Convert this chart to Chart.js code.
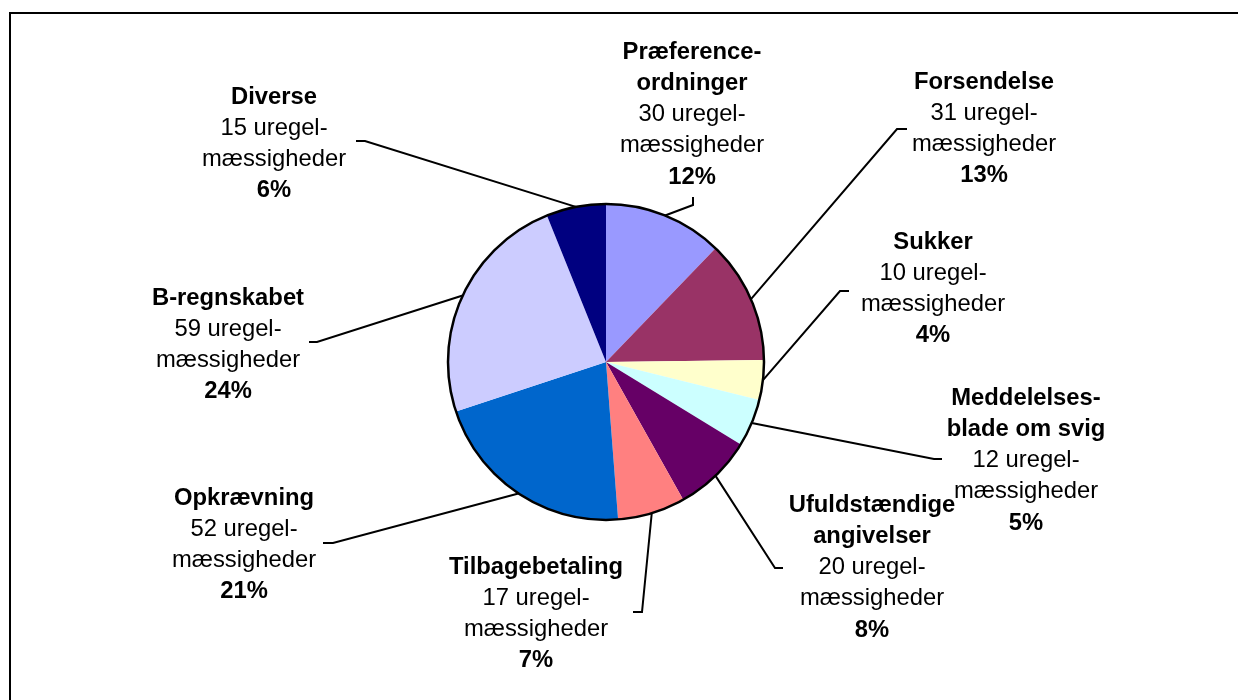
<!DOCTYPE html>
<html>
<head>
<meta charset="utf-8">
<script src="https://cdn.jsdelivr.net/npm/chart.js@4/dist/chart.umd.min.js"></script>
<style>
  html, body { margin: 0; padding: 0; background: #fff; }
  #wrap { position: relative; width: 1238px; height: 700px; }
</style>
</head>
<body>
<div id="wrap"><canvas id="pie"></canvas></div>
<script>
// data
const categories = [
  ["Præference-", "ordninger"],
  ["Forsendelse"],
  ["Sukker"],
  ["Meddelelses-", "blade om svig"],
  ["Ufuldstændige", "angivelser"],
  ["Tilbagebetaling"],
  ["Opkrævning"],
  ["B-regnskabet"],
  ["Diverse"]
];
const counts = [30, 31, 10, 12, 20, 17, 52, 59, 15];
const sliceColors = ["#9999FF", "#993366", "#FFFFCC", "#CCFFFF", "#660066",
                     "#FF8080", "#0066CC", "#CCCCFF", "#000080"];

// where each label sits: text centre x, first line y, leader elbow, hook end
const labelLayout = [
  { x: 692,  y: 52,  elbow: [693, 205], hook: [693, 197] },
  { x: 984,  y: 82,  elbow: [897, 129], hook: [907, 129] },
  { x: 933,  y: 242, elbow: [840, 291], hook: [849, 291] },
  { x: 1026, y: 398, elbow: [934, 459], hook: [942, 459] },
  { x: 872,  y: 505, elbow: [775, 568], hook: [783, 568] },
  { x: 536,  y: 567, elbow: [642, 612], hook: [633, 612] },
  { x: 244,  y: 498, elbow: [333, 543], hook: [323, 543] },
  { x: 228,  y: 298, elbow: [317, 342], hook: [309, 342] },
  { x: 274,  y: 97,  elbow: [365, 141], hook: [356, 141] }
];

const total = counts.reduce((a, b) => a + b, 0);
const FONT = '"Liberation Sans", Arial, Helvetica, sans-serif';
const LINE_H = 31.3;

const framePlugin = {
  id: "frame",
  beforeDraw(chart) {
    const ctx = chart.ctx;
    ctx.save();
    ctx.fillStyle = "#fff";
    ctx.fillRect(0, 0, chart.width, chart.height);
    ctx.strokeStyle = "#000";
    ctx.lineWidth = 2;
    ctx.beginPath();
    ctx.moveTo(10, chart.height + 5);
    ctx.lineTo(10, 13);
    ctx.lineTo(chart.width + 5, 13);
    ctx.stroke();
    ctx.restore();
  }
};

const labelPlugin = {
  id: "pieLabels",
  afterDatasetsDraw(chart) {
    const ctx = chart.ctx;
    const arcs = chart.getDatasetMeta(0).data;
    ctx.save();

    // outer ring
    const a0 = arcs[0];
    ctx.strokeStyle = "#000";
    ctx.lineWidth = 2.5;
    ctx.beginPath();
    ctx.arc(a0.x, a0.y, a0.outerRadius, 0, Math.PI * 2);
    ctx.stroke();

    arcs.forEach((arc, i) => {
      const lay = labelLayout[i];
      const mid = (arc.startAngle + arc.endAngle) / 2;
      const sx = arc.x + Math.cos(mid) * arc.outerRadius;
      const sy = arc.y + Math.sin(mid) * arc.outerRadius;

      ctx.strokeStyle = "#000";
      ctx.lineWidth = 2;
      ctx.beginPath();
      ctx.moveTo(sx, sy);
      ctx.lineTo(lay.elbow[0], lay.elbow[1]);
      ctx.lineTo(lay.hook[0], lay.hook[1]);
      ctx.stroke();

      const pct = Math.round(counts[i] / total * 100) + "%";
      const lines = categories[i].map(t => ({ t, bold: true }))
        .concat([{ t: counts[i] + " uregel-", bold: false },
                 { t: "mæssigheder", bold: false },
                 { t: pct, bold: true }]);
      ctx.fillStyle = "#000";
      ctx.textAlign = "center";
      ctx.textBaseline = "middle";
      lines.forEach((ln, k) => {
        ctx.font = (ln.bold ? "bold " : "") + "23.8px " + FONT;
        ctx.fillText(ln.t, lay.x, lay.y + k * LINE_H);
      });
    });
    ctx.restore();
  }
};

new Chart(document.querySelector("#pie"), {
  type: "pie",
  data: {
    labels: categories.map(c => c.join(" ")),
    datasets: [{
      data: counts,
      backgroundColor: sliceColors,
      borderWidth: 0
    }]
  },
  options: {
    responsive: true,
    maintainAspectRatio: false,
    animation: false,
    layout: { padding: { left: 448, right: 474, top: 204, bottom: 180 } },
    plugins: {
      legend: { display: false },
      tooltip: { enabled: false }
    }
  },
  plugins: [framePlugin, labelPlugin]
});
</script>
</body>
</html>
